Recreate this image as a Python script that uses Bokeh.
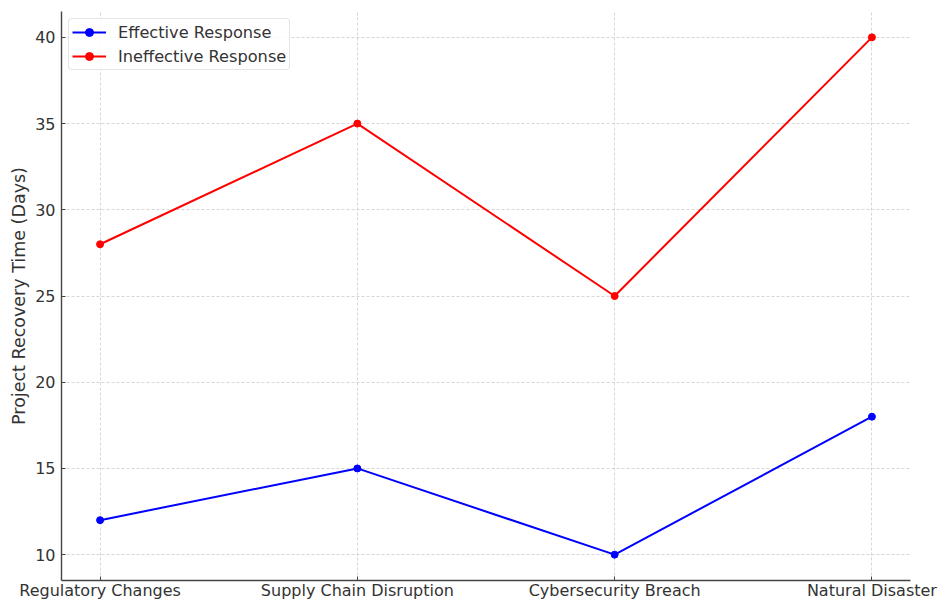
from bokeh.plotting import figure
from bokeh.models import FixedTicker, Range1d, Legend, LegendItem
from bokeh.embed import file_html
from bokeh.resources import INLINE

# Recovery times per disruption type
categories = ["Regulatory Changes", "Supply Chain Disruption",
              "Cybersecurity Breach", "Natural Disaster"]
effective = [12, 15, 10, 18]
ineffective = [28, 35, 25, 40]
y_ticks = [10, 15, 20, 25, 30, 35, 40]

xs = list(range(len(categories)))
FONT = "DejaVu Sans"

p = figure(width=938, height=602, output_backend="svg", toolbar_location=None,
           x_range=Range1d(-0.15, 3.15), y_range=Range1d(8.5, 41.5),
           min_border_left=61, min_border_right=28, min_border_top=11,
           min_border_bottom=18)
p.outline_line_color = None
p.background_fill_color = "white"
p.border_fill_color = "white"

# grid
for g in (p.xgrid, p.ygrid):
    g.grid_line_color = "#cccccc"
    g.grid_line_dash = "3 2"
    g.grid_line_width = 0.8

# axes
p.xaxis.ticker = FixedTicker(ticks=xs)
p.xaxis.major_label_overrides = {i: c for i, c in enumerate(categories)}
p.yaxis.ticker = FixedTicker(ticks=y_ticks)
p.yaxis.axis_label = "Project Recovery Time (Days)"
for ax in (p.xaxis[0], p.yaxis[0]):
    ax.axis_line_color = "#444444"
    ax.axis_line_width = 1.4
    ax.major_tick_line_color = "#444444"
    ax.major_tick_in = 4
    ax.major_tick_out = 0
    ax.minor_tick_line_color = None
    ax.major_label_text_font = FONT
    ax.major_label_text_font_size = "16px"
    ax.major_label_text_color = "#333333"
    ax.axis_label_text_font = FONT
    ax.axis_label_text_font_size = "17.5px"
    ax.axis_label_text_font_style = "normal"
    ax.axis_label_text_color = "#333333"
p.xaxis.major_label_standoff = 0
p.yaxis.major_label_standoff = 6
p.yaxis.axis_label_standoff = 3

# series
l1 = p.line(xs, effective, line_color="#0000ff", line_width=2)
c1 = p.scatter(xs, effective, size=7, fill_color="#0000ff", line_color="#0000ff")
l2 = p.line(xs, ineffective, line_color="#ff0000", line_width=2)
c2 = p.scatter(xs, ineffective, size=7, fill_color="#ff0000", line_color="#ff0000")

legend = Legend(items=[
    LegendItem(label="Effective Response", renderers=[l1, c1]),
    LegendItem(label="Ineffective Response", renderers=[l2, c2]),
], location="top_left")
legend.margin = 7
legend.padding = 3
legend.spacing = 4
legend.label_height = 20
legend.glyph_width = 34
legend.glyph_height = 20
legend.label_standoff = 12
legend.label_text_font = FONT
legend.label_text_font_size = "16.2px"
legend.label_text_color = "#333333"
legend.border_line_color = "#cccccc"
legend.border_line_width = 1
legend.border_radius = 4
legend.background_fill_alpha = 0.85
p.add_layout(legend)

open("out.html", "w").write(file_html(p, INLINE))
